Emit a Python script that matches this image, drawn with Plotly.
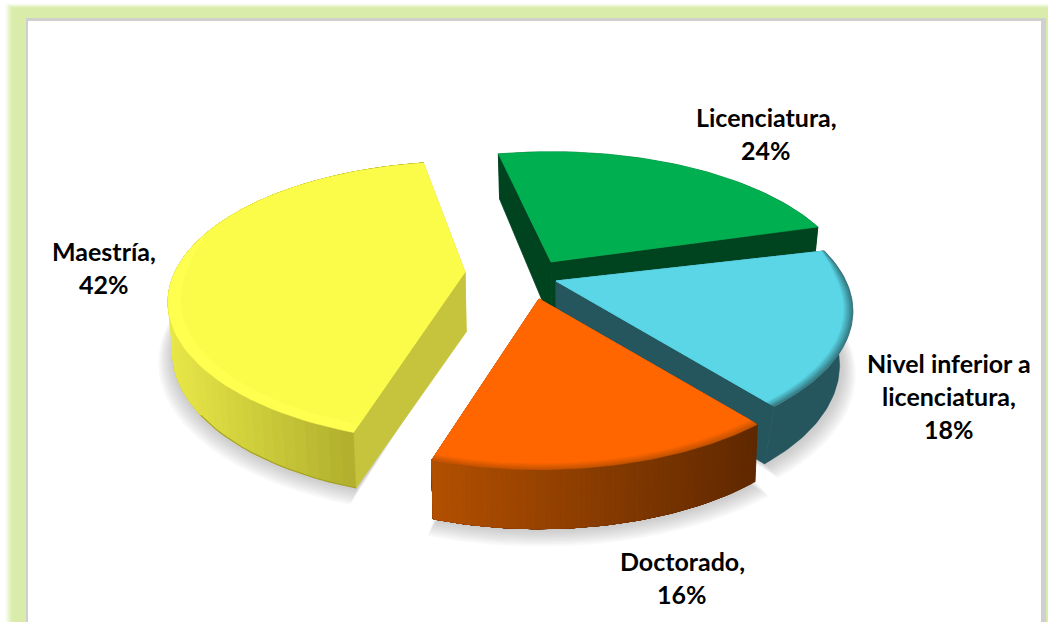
import math
import plotly.graph_objects as go

# ---- data ----
categories = ["Licenciatura", "Nivel inferior a licenciatura", "Doctorado", "Maestría"]
values = [24, 18, 16, 42]
label_lines = [["Licenciatura,"], ["Nivel inferior a", "licenciatura,"], ["Doctorado,"], ["Maestría,"]]
label_pos = [(766, 117), (949, 363), (682, 561), (104, 251)]

# ---- style / layout ----
W, H = 1048, 622
top_col = ["#00b050", "#5ad6e6", "#ff6600", "#fbfb4a"]
rim_col = ["#00b050", "#2f6a72", "#b85000", "#ffff50"]
side_l = ["#00431f", "#25565d", "#b35000", "#e8e748"]
side_r = ["#00431f", "#25565d", "#5f2800", "#b0ae2c"]
cut_col = ["#00431f", "#25565d", "#5f2800", "#c6c43d"]
apex = [(551, 262), (556, 281), (539, 299), (465, 272)]
rot = [-2.5, 0, 0, 0]
rscale = [1.015, 1, 1, 1]
warp = [0, 0, 1.7, 1]
depth_adj = [0, 0, 0, -3]
tilt = [0.02, 0.045, 0.012, 0.012]
R, B, PERSP = 290, 134, 0.215
START = -10
LINE_H = 33
FONT = dict(family="Lato, Carlito, 'Open Sans', sans-serif", size=25, color="#000000")


def top_pt(i, th, r=1.0):
    th = th + rot[i] - warp[i] * math.exp(-((th - 199) / 25) ** 2)
    t = math.radians(th)
    Y = -math.cos(t) * r
    s = 1 / (1 - Y * PERSP)
    return apex[i][0] + R * rscale[i] * r * math.sin(t) * s, apex[i][1] + B * Y * s


def drop(i, x, y, Y):
    d = 52 + 7 * Y + depth_adj[i]
    return x - (x - 560) * tilt[i], y + d


def bot_pt(i, th, r=1.0):
    x, y = top_pt(i, th, r)
    return drop(i, x, y, -math.cos(math.radians(th)))


def hexrgb(c):
    return tuple(int(c[k:k + 2], 16) for k in (1, 3, 5))


def blend(a, b, f):
    a, b = hexrgb(a), hexrgb(b)
    return "#%02x%02x%02x" % tuple(round(a[k] + (b[k] - a[k]) * f) for k in range(3))


fig = go.Figure()


def poly(pts, color, lw=0.8):
    fig.add_trace(go.Scatter(
        x=[p[0] for p in pts] + [pts[0][0]], y=[p[1] for p in pts] + [pts[0][1]],
        mode="lines", fill="toself", fillcolor=color,
        line=dict(color=color, width=lw),
        hoverinfo="skip", showlegend=False))


# wedge angles come from the values
spans = []
a = START
for v in values:
    spans.append((a, a + v * 3.6))
    a += v * 3.6


def arc(i, r=1.0, n=70, fn=top_pt):
    a0, a1 = spans[i]
    return [fn(i, a0 + (a1 - a0) * k / n, r) for k in range(n + 1)]


def rim_arc(i, inset, n=70):
    """Arc pulled in by `inset` on the side facing the viewer only."""
    a0, a1 = spans[i]
    out = []
    for k in range(n + 1):
        th = a0 + (a1 - a0) * k / n
        Y = -math.cos(math.radians(th))
        front = max(0.0, min(1.0, (Y + 0.35) / 0.3))
        out.append(top_pt(i, th, 1 - inset * front))
    return out


# soft shadows
for i in [1, 2, 3]:
    bx, by = drop(i, *apex[i], 0)
    by += 3
    for k in range(8):
        r = 1.05 - k * 0.006
        pts = [(bx, by)] + [(x + 1, y + 1 + (7 - k) * 0.8) for x, y in arc(i, r, 50, bot_pt)]
        fig.add_trace(go.Scatter(
            x=[p[0] for p in pts] + [pts[0][0]], y=[p[1] for p in pts] + [pts[0][1]],
            mode="lines", fill="toself", fillcolor="rgba(120,120,120,0.055)",
            line=dict(width=0), hoverinfo="skip", showlegend=False))

for i in [0, 1, 3, 2]:
    a0, a1 = spans[i]
    ax, ay = apex[i]
    abot = (ax - (ax - 560) * tilt[i], ay + 60)
    # cut faces
    for th in (a0, a1):
        poly([(ax, ay), top_pt(i, th), bot_pt(i, th), abot], cut_col[i])
    # curved outer wall: overlapping layers painted right to left so no seams show
    n = 70 if side_l[i] != side_r[i] else 1
    steps = list(range(n))
    xs = [top_pt(i, a0 + (a1 - a0) * k / n)[0] for k in range(n + 1)]
    xmin = min(top_pt(i, a0 + (a1 - a0) * k / 200)[0] for k in range(201))
    xmax = top_pt(i, a0)[0] if i == 3 else max(xs)
    for k in steps:
        # paints the wall from step k to its far end; later steps cover the rest
        xm = (xs[k] + xs[k + 1]) / 2
        f = max(0.0, min(1.0, (xm - xmin) / max(1, xmax - xmin)))
        c = blend(side_l[i], side_r[i], f)
        m = max(2, 60 * (n - k) // max(n, 1))
        sub = [a0 + (a1 - a0) * (k + (n - k) * j / m) / n for j in range(m + 1)]
        poly([top_pt(i, t) for t in sub] + [bot_pt(i, t) for t in reversed(sub)], c, 0.3)
    # dark lower edge of the yellow wall
    if i == 3:
        low = []
        for k in range(60):
            th = a0 + (a1 - a0) * k / 60
            if th < 235:
                low.append(bot_pt(i, th))
        fig.add_trace(go.Scatter(x=[p[0] for p in low], y=[p[1] for p in low], mode="lines",
                                 line=dict(color="#a3a126", width=1.1),
                                 hoverinfo="skip", showlegend=False))
    # bevelled rim and top face
    if i == 0:
        poly([(ax, ay)] + arc(i), top_col[i], 0.6)
    elif i == 3:
        poly([(ax, ay)] + arc(i), rim_col[i], 0.5)
        poly([(ax, ay)] + rim_arc(i, 0.04), top_col[i], 0.3)
    else:
        layers = 6
        for k in range(layers):
            c = blend(rim_col[i], top_col[i], (k + 1) / layers)
            poly([(ax, ay)] + rim_arc(i, k * 0.006), c, 0.5)

# labels: one annotation per line, percentage read from the values
annotations = []
for lines, v, (x, y) in zip(label_lines, values, label_pos):
    for j, t in enumerate(lines + [f"{v}%"]):
        annotations.append(dict(x=x, y=y + j * LINE_H, text=f"<b>{t}</b>", showarrow=False,
                                xanchor="center", yanchor="middle", font=FONT))

# frame: soft glow, green band, grey line, white panel
shapes = []
glow = 10
for k in range(glow):
    f = (k + 1) / glow
    c = blend("#ffffff", "#d9ecaa", f * f * (3 - 2 * f))
    shapes.append(dict(type="rect", layer="below", x0=4 + k, y0=3 + k * 0.6, x1=W + 20, y1=H + 40,
                       fillcolor=c, line=dict(width=0)))
shapes.append(dict(type="rect", layer="below", x0=26, y0=18, x1=1046, y1=H + 40,
                   fillcolor="#cfcfcf", line=dict(width=0)))
shapes.append(dict(type="rect", layer="below", x0=28, y0=21, x1=1041, y1=H + 40,
                   fillcolor="#ffffff", line=dict(width=0)))

fig.update_layout(
    width=W, height=H, margin=dict(l=0, r=0, t=0, b=0, pad=0),
    paper_bgcolor="#ffffff", plot_bgcolor="rgba(0,0,0,0)", showlegend=False,
    xaxis=dict(range=[0, W], visible=False, fixedrange=True),
    yaxis=dict(range=[H, 0], visible=False, fixedrange=True),
    shapes=shapes, annotations=annotations,
)
fig.write_html("out.html", config={"displayModeBar": False},
               post_script="document.body.style.margin='0';document.documentElement.style.overflow='hidden';")
